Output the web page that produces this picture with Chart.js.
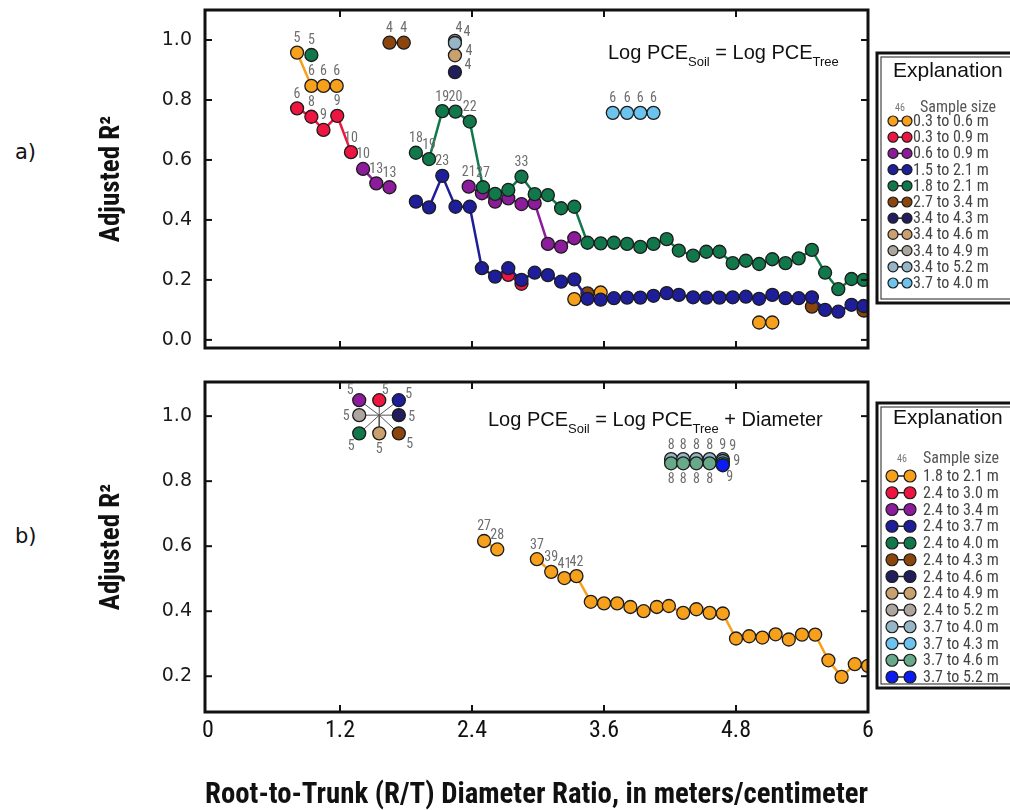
<!DOCTYPE html>
<html><head><meta charset="utf-8">
<script src="https://cdn.jsdelivr.net/npm/chart.js@4.4.1/dist/chart.umd.min.js"></script>
<style>
html,body{margin:0;padding:0;background:#fff}
body{width:1010px;height:810px;position:relative;overflow:hidden}
canvas{position:absolute;left:0}
#ca{top:0}
#cb{top:370px}
.pl{position:absolute;left:15px;font:21px "DejaVu Sans",sans-serif;color:#111}
</style></head><body>
<div class="pl" style="top:140px">a)</div>
<div class="pl" style="top:524px">b)</div>
<canvas id="ca" width="1010" height="370" style="width:1010px;height:370px"></canvas>
<canvas id="cb" width="1010" height="440" style="width:1010px;height:440px"></canvas>
<script>
// ---------- ticks ----------
const xTickValues = [0, 1.2, 2.4, 3.6, 4.8, 6];
const xTickLabels = ['0', '1.2', '2.4', '3.6', '4.8', '6'];
const yTickValuesA = [0, 0.2, 0.4, 0.6, 0.8, 1.0];
const yTickValuesB = [0.2, 0.4, 0.6, 0.8, 1.0];

// ---------- panel a : Log PCE_Soil = Log PCE_Tree ----------
const aNames = ['0.3 to 0.6 m', '0.3 to 0.9 m', '0.6 to 0.9 m', '1.5 to 2.1 m', '1.8 to 2.1 m', '2.7 to 3.4 m',
  '3.4 to 4.3 m', '3.4 to 4.6 m', '3.4 to 4.9 m', '3.4 to 5.2 m', '3.7 to 4.0 m'];

const a1x = [0.81, 0.94, 1.05, 1.17, null, 3.33, null, 3.57, null, 5.01, 5.13];
const a1y = [0.958, 0.847, 0.847, 0.847, null, 0.136, null, 0.158, null, 0.058, 0.058];
const a1n = [5, 6, 6, 6];

const a2x = [0.81, 0.94, 1.05, 1.175, 1.30, null, 2.73, 2.85];
const a2y = [0.772, 0.744, 0.700, 0.747, 0.626, null, 0.217, 0.187];
const a2n = [6, 8, 9, 9, 10];

const a3x = [1.41, 1.53, 1.65, null, 2.37, 2.49, 2.61, 2.73, 2.85, 2.97, 3.09, 3.21, 3.33];
const a3y = [0.570, 0.522, 0.509, null, 0.511, 0.489, 0.461, 0.472, 0.453, 0.456, 0.320, 0.311, 0.339];
const a3n = [10, 13, 13, null, 21];

const a4x = [1.89, 2.01, 2.13, 2.25, 2.38, 2.49, 2.61, 2.73, 2.85, 2.97, 3.09, 3.21, 3.33, 3.45, 3.57, 3.69, 3.81, 3.93,
  4.05, 4.17, 4.28, 4.41, 4.53, 4.65, 4.77, 4.89, 5.01, 5.13, 5.25, 5.37, 5.49, 5.61, 5.73, 5.85, 5.96];
const a4y = [0.461, 0.442, 0.547, 0.444, 0.444, 0.239, 0.211, 0.239, 0.200, 0.224, 0.216, 0.194, 0.202, 0.137, 0.134,
  0.139, 0.141, 0.141, 0.147, 0.156, 0.150, 0.142, 0.141, 0.141, 0.142, 0.144, 0.137, 0.150, 0.139, 0.139,
  0.142, 0.100, 0.094, 0.117, 0.113];
const a4n = [null, null, 23];

const a5x = [0.94, null, 1.89, 2.01, 2.13, 2.25, 2.38, 2.50, 2.61, 2.73, 2.85, 2.97, 3.09, 3.21, 3.33, 3.45, 3.57, 3.69,
  3.81, 3.93, 4.05, 4.17, 4.28, 4.41, 4.53, 4.65, 4.77, 4.89, 5.01, 5.13, 5.25, 5.37, 5.49, 5.61, 5.73, 5.85, 5.96];
const a5y = [0.950, null, 0.624, 0.603, 0.763, 0.761, 0.728, 0.509, 0.487, 0.500, 0.544, 0.486, 0.483, 0.439, 0.444,
  0.324, 0.322, 0.324, 0.320, 0.310, 0.320, 0.336, 0.298, 0.281, 0.294, 0.294, 0.256, 0.264, 0.253, 0.269,
  0.256, 0.272, 0.300, 0.224, 0.169, 0.203, 0.200];
const a5n = [5, null, 18, 19, 19, 20, 22, 27, null, null, 33];

const a6x = [1.65, 1.78, null, 3.45, null, 5.49, null, 5.96];
const a6y = [0.991, 0.991, null, 0.155, null, 0.111, null, 0.098];
const a6n = [4, 4];

const a7x = [2.245], a7y = [0.893], a7n = [4], a7p = ['r2'];
const a8x = [2.245], a8y = [0.949], a8n = [4], a8p = ['r1'];
const a9x = [2.245], a9y = [0.997], a9n = [4], a9p = ['tr1'];
const a10x = [2.245], a10y = [0.990], a10n = [4], a10p = ['tr2'];
const a11x = [3.68, 3.81, 3.93, 4.05], a11y = [0.757, 0.757, 0.757, 0.757], a11n = [6, 6, 6, 6];

// ---------- panel b : Log PCE_Soil = Log PCE_Tree + Diameter ----------
const bNames = ['1.8 to 2.1 m', '2.4 to 3.0 m', '2.4 to 3.4 m', '2.4 to 3.7 m', '2.4 to 4.0 m', '2.4 to 4.3 m',
  '2.4 to 4.6 m', '2.4 to 4.9 m', '2.4 to 5.2 m', '3.7 to 4.0 m', '3.7 to 4.3 m', '3.7 to 4.6 m', '3.7 to 5.2 m'];

const b1x = [2.51, 2.63, null, 2.99, 3.12, 3.24, 3.35, 3.48, 3.60, 3.72, 3.84, 3.96, 4.08, 4.19, 4.32, 4.44, 4.56, 4.68,
  4.80, 4.92, 5.04, 5.16, 5.28, 5.40, 5.52, 5.64, 5.76, 5.88, 6.00];
const b1y = [0.616, 0.590, null, 0.560, 0.521, 0.502, 0.508, 0.429, 0.424, 0.424, 0.413, 0.400, 0.413, 0.416, 0.395,
  0.406, 0.395, 0.393, 0.316, 0.323, 0.319, 0.329, 0.313, 0.328, 0.328, 0.249, 0.198, 0.237, 0.232];
const b1n = [27, 28, null, 37, 39, 41, 42];

// spoke cluster (all n = 5) drawn around a hub point
const hubX = 1.557, hubY = 1.003;
const clusterX = [1.557, 1.375, 1.735, 1.375, 1.735, 1.735, 1.557, 1.375]; // red, purple, blue, green, brown, navy, tan, gray
const clusterY = [1.049, 1.049, 1.049, 0.947, 0.947, 1.003, 0.947, 1.003];
const clusterN = [5, 5, 5, 5, 5, 5, 5, 5];
const clusterP = ['trs', 'tl', 'trb', 'bl', 'br', 'r', 'b', 'l'];

const b10x = [4.21, 4.32, 4.44, 4.56, 4.68], b10y = [0.868, 0.868, 0.868, 0.868, 0.868], b10n = [8, 8, 8, 8, 9];
const b11x = [4.68], b11y = [0.862], b11n = [9], b11p = ['s9'];
const b12x = [4.21, 4.32, 4.44, 4.56, 4.68], b12y = [0.855, 0.855, 0.855, 0.855, 0.855], b12n = [8, 8, 8, 8, 9];
const b12p = ['b', 'b', 'b', 'b', 'r9'];
const b13x = [4.68], b13y = [0.849], b13n = [9], b13p = ['br9'];

// ---------- styles ----------
const COND = '"Roboto Condensed", "Open Sans Condensed", "Liberation Sans", sans-serif';
const C = {orange:'#F7A01C', red:'#EE1640', purple:'#8C1C9C', blue:'#1E1E9B', green:'#11784B', brown:'#8A460C',
  navy:'#221D5C', tan:'#C9A06E', gray:'#ADA69E', lbgray:'#96B6C6', sky:'#6BC3EE', seagreen:'#68A98A', bblue:'#0A1CF2'};
const OFF = {t:[0,-14], b:[0,16], l:[-13,1], r:[13,2], tl:[-9,-10], trs:[6,-10], trb:[10,-6], bl:[-8,13], br:[11,11],
  tr1:[4,-12], tr2:[12,-10], r1:[14,-4], r2:[13,-7], s9:[10,-15], r9:[14,-2], br9:[7,12]};

const seriesA = [
  {name:aNames[0], color:C.orange, x:a1x, y:a1y, n:a1n, z:2},
  {name:aNames[1], color:C.red, x:a2x, y:a2y, n:a2n, z:1},
  {name:aNames[2], color:C.purple, x:a3x, y:a3y, n:a3n, z:3},
  {name:aNames[3], color:C.blue, x:a4x, y:a4y, n:a4n, z:6},
  {name:aNames[4], color:C.green, x:a5x, y:a5y, n:a5n, z:4},
  {name:aNames[5], color:C.brown, x:a6x, y:a6y, n:a6n, z:5},
  {name:aNames[6], color:C.navy, x:a7x, y:a7y, n:a7n, p:a7p, z:10},
  {name:aNames[7], color:C.tan, x:a8x, y:a8y, n:a8n, p:a8p, z:8},
  {name:aNames[8], color:C.gray, x:a9x, y:a9y, n:a9n, p:a9p, z:7},
  {name:aNames[9], color:C.lbgray, x:a10x, y:a10y, n:a10n, p:a10p, z:9},
  {name:aNames[10], color:C.sky, x:a11x, y:a11y, n:a11n, z:11}
];

const clusterColors = [C.red, C.purple, C.blue, C.green, C.brown, C.navy, C.tan, C.gray];
const clusterNames = [bNames[1], bNames[2], bNames[3], bNames[4], bNames[5], bNames[6], bNames[7], bNames[8]];
const seriesB = [{name:bNames[0], color:C.orange, x:b1x, y:b1y, n:b1n, z:1}];
clusterX.forEach((cx, i) => {
  seriesB.push({name:clusterNames[i], color:clusterColors[i], x:[hubX, cx], y:[hubY, clusterY[i]],
    n:[null, clusterN[i]], p:[null, clusterP[i]], r:[0, 6.5], line:'#555', lw:1, z:2});
});
seriesB.push({name:bNames[9], color:C.lbgray, x:b10x, y:b10y, n:b10n, z:3});
seriesB.push({name:bNames[10], color:C.sky, x:b11x, y:b11y, n:b11n, p:b11p, z:4});
seriesB.push({name:bNames[11], color:C.seagreen, x:b12x, y:b12y, n:b12n, p:b12p, z:5});
seriesB.push({name:bNames[12], color:C.bblue, x:b13x, y:b13y, n:b13n, p:b13p, z:6});

function makeDatasets(series) {
  return series.map(s => ({
    label: s.name,
    data: s.x.map((x, i) => ({x: x == null ? NaN : x, y: s.y[i]})),
    showLine: true, spanGaps: false,
    borderColor: s.line || s.color, borderWidth: s.lw || 2.5,
    backgroundColor: s.color, pointBackgroundColor: s.color,
    pointBorderColor: '#1c1c1c', pointBorderWidth: 1.3,
    pointRadius: s.r || 6.5, tension: 0,
    order: 100 - s.z
  }));
}

const framePlugin = {
  id: 'frame',
  afterDatasetsDraw(chart) {
    const {ctx, chartArea: a, scales: {x, y}} = chart;
    ctx.save();
    ctx.strokeStyle = '#111'; ctx.lineWidth = 2;
    const L = 7;
    const seg = (x1, y1, x2, y2) => { ctx.beginPath(); ctx.moveTo(x1, y1); ctx.lineTo(x2, y2); ctx.stroke(); };
    x.ticks.forEach(t => {
      const px = x.getPixelForValue(t.value);
      if (px <= a.left + 3 || px >= a.right - 3) return;
      seg(px, a.top, px, a.top + L); seg(px, a.bottom, px, a.bottom - L);
    });
    y.ticks.forEach(t => {
      const py = y.getPixelForValue(t.value);
      seg(a.left, py, a.left + L, py); seg(a.right, py, a.right - L, py);
    });
    ctx.lineWidth = 3;
    ctx.strokeRect(a.left, a.top, a.right - a.left, a.bottom - a.top);
    ctx.restore();
  }
};

function makeLabelPlugin(series) {
  return {
    id: 'nlabels',
    afterDatasetsDraw(chart) {
      const ctx = chart.ctx;
      ctx.save();
      ctx.font = '14px ' + COND;
      ctx.fillStyle = '#6e6e6e'; ctx.textAlign = 'center'; ctx.textBaseline = 'middle';
      series.forEach((s, di) => {
        if (!s.n) return;
        const meta = chart.getDatasetMeta(di);
        s.n.forEach((v, i) => {
          if (v == null) return;
          const el = meta.data[i];
          if (!el || el.skip) return;
          const code = (s.p && s.p[i]) || 't';
          const [dx, dy] = OFF[code];
          ctx.fillText(String(v), el.x + dx, el.y + dy);
        });
      });
      ctx.restore();
    }
  };
}

function makeLegendPlugin(series, o) {
  return {
    id: 'explain',
    afterDraw(chart) {
      const ctx = chart.ctx;
      ctx.save();
      ctx.strokeStyle = '#111'; ctx.lineWidth = 3;
      ctx.strokeRect(o.x, o.y, 300, o.h);
      ctx.lineWidth = 1.2; ctx.strokeStyle = '#444';
      ctx.strokeRect(o.x + 4, o.y + 4, 300, o.h - 8);
      ctx.textBaseline = 'middle';
      ctx.fillStyle = '#111'; ctx.font = '21px "Liberation Sans", sans-serif'; ctx.textAlign = 'left';
      ctx.fillText('Explanation', o.titleX, o.titleY);
      ctx.fillStyle = '#777'; ctx.font = '10px ' + COND; ctx.textAlign = 'center';
      ctx.fillText('46', o.numX, o.headY);
      ctx.fillStyle = '#555'; ctx.font = o.fs + 'px ' + COND; ctx.textAlign = 'left';
      ctx.fillText('Sample size', o.headX, o.headY);
      series.forEach((s, i) => {
        const y = o.rowY0 + i * o.rowDy;
        ctx.strokeStyle = '#222'; ctx.lineWidth = 1.5;
        ctx.beginPath(); ctx.moveTo(o.c1, y); ctx.lineTo(o.c2, y); ctx.stroke();
        [o.c1, o.c2].forEach(cx => {
          ctx.beginPath(); ctx.arc(cx, y, o.r, 0, Math.PI * 2);
          ctx.fillStyle = s.color; ctx.fill();
          ctx.lineWidth = 1.2; ctx.strokeStyle = '#1c1c1c'; ctx.stroke();
        });
        ctx.fillStyle = '#444'; ctx.font = o.fs + 'px ' + COND;
        ctx.fillText(s.name, o.textX, y + 1);
      });
      ctx.restore();
    }
  };
}

function makeNotePlugin(parts, x, y) {
  return {
    id: 'note',
    afterDraw(chart) {
      const ctx = chart.ctx;
      ctx.save();
      ctx.fillStyle = '#111'; ctx.textBaseline = 'alphabetic'; ctx.textAlign = 'left';
      let cx = x;
      parts.forEach(p => {
        ctx.font = p.sub ? '13px "Liberation Sans", sans-serif' : '20px "Liberation Sans", sans-serif';
        ctx.fillText(p.t, cx, y + (p.sub ? 7 : 0));
        cx += ctx.measureText(p.t).width;
      });
      ctx.restore();
    }
  };
}

function baseOptions(yMin, yMax, yTicks, padTop, xHeight, showX) {
  return {
    responsive: false, animation: false, devicePixelRatio: 1, events: [],
    layout: {padding: {left: 0, right: 142, top: padTop, bottom: 0}},
    plugins: {legend: {display: false}, tooltip: {enabled: false}},
    scales: {
      x: {
        type: 'linear', min: -0.027, max: 6,
        grid: {display: false, drawTicks: false}, border: {display: false},
        ticks: {display: showX, padding: 5, maxRotation: 0, autoSkip: false, color: '#111',
          font: {family: COND, size: 24},
          callback: (v, i) => xTickLabels[i]},
        title: {display: showX, text: 'Root-to-Trunk (R/T) Diameter Ratio, in meters/centimeter', color: '#111',
          font: {family: COND, weight: 'bold', size: 29, lineHeight: 1}, padding: {top: 0, bottom: 0}},
        afterBuildTicks: s => { s.ticks = xTickValues.map(v => ({value: v})); },
        afterFit: s => { s.height = xHeight; s.paddingLeft = 0; s.paddingRight = 0; }
      },
      y: {
        type: 'linear', min: yMin, max: yMax,
        grid: {display: false, drawTicks: false}, border: {display: false},
        ticks: {padding: 13, autoSkip: false, color: '#1a1a1a', font: {family: 'DejaVu Sans', size: 19},
          callback: v => Number(v).toFixed(1)},
        title: {display: true, text: 'Adjusted R²', color: '#111',
          font: {family: COND, weight: 'bold', size: 27, lineHeight: 1}, padding: {top: 99, bottom: 0}},
        afterBuildTicks: s => { s.ticks = yTicks.map(v => ({value: v})); },
        afterFit: s => { s.width = 205; s.paddingTop = 0; s.paddingBottom = 0; }
      }
    }
  };
}

new Chart(document.getElementById('ca'), {
  type: 'scatter',
  data: {datasets: makeDatasets(seriesA)},
  options: baseOptions(-0.027, 1.1, yTickValuesA, 10, 22, false),
  plugins: [framePlugin, makeLabelPlugin(seriesA),
    makeLegendPlugin(seriesA, {x: 877, y: 53, h: 250, titleX: 893, titleY: 71, headY: 108, numX: 900, headX: 920,
      rowY0: 121, rowDy: 16.2, c1: 893, c2: 907, r: 5, textX: 913, fs: 16}),
    makeNotePlugin([{t: 'Log PCE'}, {t: 'Soil', sub: 1}, {t: ' = Log PCE'}, {t: 'Tree', sub: 1}], 608, 59)]
});

const legendSeriesB = [seriesB[0]].concat(seriesB.slice(1, 9)).concat(seriesB.slice(9));
new Chart(document.getElementById('cb'), {
  type: 'scatter',
  data: {datasets: makeDatasets(seriesB)},
  options: baseOptions(0.09, 1.105, yTickValuesB, 12, 98, true),
  plugins: [framePlugin, makeLabelPlugin(seriesB),
    makeLegendPlugin(legendSeriesB, {x: 877, y: 33, h: 285, titleX: 893, titleY: 48, headY: 89, numX: 902, headX: 923,
      rowY0: 106, rowDy: 16.75, c1: 892, c2: 910, r: 6, textX: 923, fs: 16}),
    makeNotePlugin([{t: 'Log PCE'}, {t: 'Soil', sub: 1}, {t: ' = Log PCE'}, {t: 'Tree', sub: 1}, {t: ' + Diameter'}], 488, 56)]
});
</script></body></html>
